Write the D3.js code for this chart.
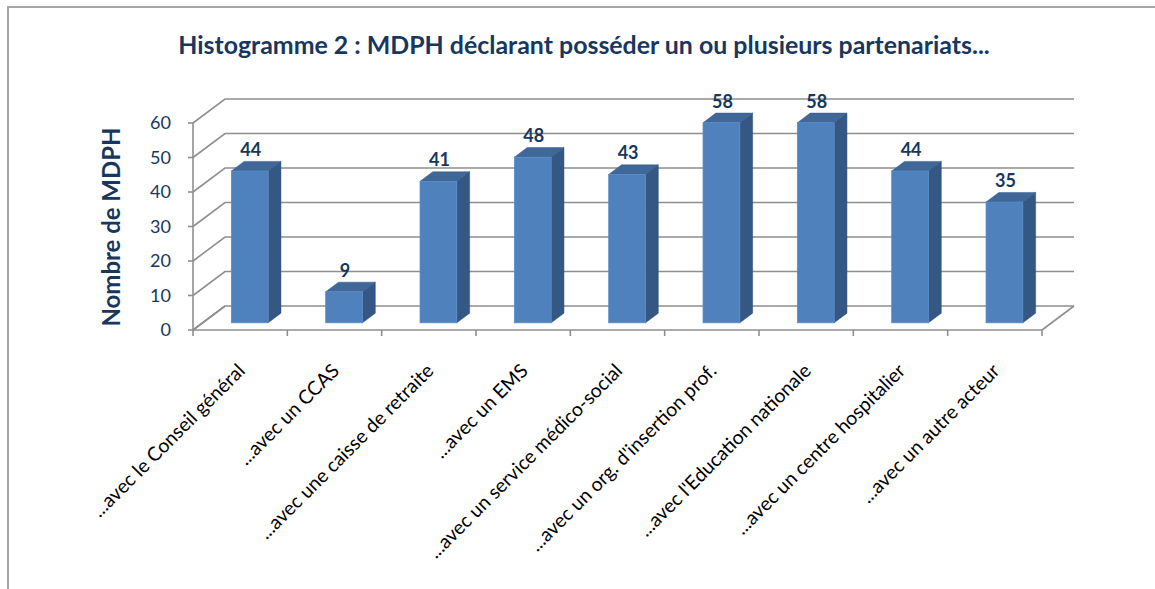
<!DOCTYPE html>
<html><head><meta charset="utf-8">
<script src="https://cdn.jsdelivr.net/npm/d3@7"></script>
<style>html,body{margin:0;padding:0;background:#fff;}svg{display:block;}</style>
</head><body>
<svg id="chart" width="1155" height="589"></svg>
<script>
const title = "Histogramme 2 : MDPH déclarant posséder un ou plusieurs partenariats...";
const yTitle = "Nombre de MDPH";
const categories = [
  "...avec le Conseil général",
  "...avec un CCAS",
  "...avec une caisse de retraite",
  "...avec un EMS",
  "...avec un service médico-social",
  "...avec un org. d'insertion prof.",
  "...avec l'Education nationale",
  "...avec un centre hospitalier",
  "...avec un autre acteur"
];
const values = [44, 9, 41, 48, 43, 58, 58, 44, 35];
const yTicks = [0, 10, 20, 30, 40, 50, 60];

const svg = d3.select("#chart");
const FONT = "Lato, 'Open Sans', sans-serif";
const NAVY = "#17375E";
const GRID = "#8f8f8f";

// frame
svg.append("path").attr("d", "M8,590 V7 H1160")
  .attr("fill", "none").attr("stroke", "#a6a6a6").attr("stroke-width", 2);

const x = d3.scaleBand().domain(categories).range([193, 1042]).paddingInner(0).paddingOuter(0);
const y = d3.scaleLinear().domain([0, 60]).range([330, 123]);
const DX = 32, DY = -24;   // depth offset of back wall
const Z0 = 0.3, Z1 = 0.7;  // bar depth span
const bw = x.bandwidth() * 0.39;

const g = svg.append("g");

// floor
const x0 = x.range()[0], x1 = x.range()[1], y0 = y(0);
g.append("path")
  .attr("d", `M${x0},${y0} L${x0+DX},${y0+DY} M${x1},${y0} L${x1+DX},${y0+DY}`)
  .attr("stroke", GRID).attr("stroke-width", 1.6).attr("fill", "none");

// gridlines (side wall diagonal + back wall horizontal)
g.selectAll(".grid").data(yTicks).join("path")
  .attr("d", d => `M${x0},${y(d)} L${x0+DX},${y(d)+DY} L${x1+DX},${y(d)+DY}`)
  .attr("stroke", GRID).attr("stroke-width", 1.6).attr("fill", "none");

// front floor edge and ticks
g.append("line").attr("x1", x0).attr("x2", x1).attr("y1", y0).attr("y2", y0)
  .attr("stroke", GRID).attr("stroke-width", 1.6);
const bounds = categories.map(c => x(c)).concat([x1]);
g.selectAll(".xt").data(bounds).join("line")
  .attr("x1", d => d).attr("x2", d => d).attr("y1", y0).attr("y2", y0 + 6)
  .attr("stroke", GRID).attr("stroke-width", 1.6);

// y axis
g.append("line").attr("x1", x0).attr("x2", x0).attr("y1", y(60)).attr("y2", y0)
  .attr("stroke", GRID).attr("stroke-width", 1.6);
g.selectAll(".yt").data(yTicks).join("line")
  .attr("x1", x0 - 5).attr("x2", x0).attr("y1", d => y(d)).attr("y2", d => y(d))
  .attr("stroke", GRID).attr("stroke-width", 1.6);
g.selectAll(".yl").data(yTicks).join("text")
  .attr("x", 171).attr("y", d => y(d)).attr("dy", "0.35em")
  .attr("text-anchor", "end").attr("font-family", FONT).attr("font-size", 18)
  .attr("fill", NAVY).text(d => d);

// bars
const bars = g.selectAll(".bar").data(categories.map((c, i) => ({c, v: values[i]}))).join("g");
function fx(d) { return x(d.c) + x.bandwidth() / 2 - bw / 2 + Z0 * DX; }
function fyTop(d) { return y(d.v) + Z0 * DY; }
function fyBot() { return y(0) + Z0 * DY; }
const ddx = (Z1 - Z0) * DX, ddy = (Z1 - Z0) * DY;
bars.append("path") // side
  .attr("d", d => { const xr = fx(d) + bw, t = fyTop(d), b = fyBot();
    return `M${xr},${t} L${xr+ddx},${t+ddy} L${xr+ddx},${b+ddy} L${xr},${b} Z`; })
  .attr("fill", "#355784").attr("stroke", "#2e4d75").attr("stroke-width", 0.5);
bars.append("path") // top
  .attr("d", d => { const xl = fx(d), t = fyTop(d);
    return `M${xl},${t} L${xl+bw},${t} L${xl+bw+ddx},${t+ddy} L${xl+ddx},${t+ddy} Z`; })
  .attr("fill", "#3f6798").attr("stroke", "#37598a").attr("stroke-width", 0.5);
bars.append("rect") // front
  .attr("x", d => fx(d)).attr("y", d => fyTop(d))
  .attr("width", bw).attr("height", d => fyBot() - fyTop(d))
  .attr("fill", "#4f81bd").attr("stroke", "#5b8cc8").attr("stroke-width", 0.8);

// value labels
bars.append("text")
  .attr("x", d => fx(d) + bw / 2 + 1).attr("y", d => fyTop(d) - 15)
  .attr("text-anchor", "middle").attr("font-family", FONT).attr("font-weight", "bold")
  .attr("font-size", 18).attr("fill", NAVY).text(d => d.v);

function fit(sel, w) {
  const len = sel.node().getComputedTextLength();
  const fs = parseFloat(sel.attr("font-size"));
  const nf = fs * w / len;
  sel.attr("font-size", nf);
  return nf;
}

// category labels
const xl = g.selectAll(".xl").data(categories).join("text")
  .attr("transform", d => `translate(${x(d) + x.bandwidth() / 2 + 6},${y0 + 42}) rotate(-45)`)
  .attr("text-anchor", "end").attr("font-family", FONT).attr("font-size", 15)
  .attr("fill", "#000").text(d => d);
const lfs = fit(d3.select(xl.nodes()[0]), 207);
xl.attr("font-size", lfs);

// title
const t = svg.append("text").attr("x", 584).attr("y", 54).attr("text-anchor", "middle")
  .attr("font-family", FONT).attr("font-weight", "bold").attr("font-size", 20)
  .attr("fill", NAVY).text(title);
fit(t, 812);

const yt = svg.append("text").attr("transform", "translate(120,227) rotate(-90)")
  .attr("text-anchor", "middle").attr("font-family", FONT).attr("font-weight", "bold")
  .attr("font-size", 22).attr("fill", NAVY).text(yTitle);
fit(yt, 199);
</script>
</body></html>
